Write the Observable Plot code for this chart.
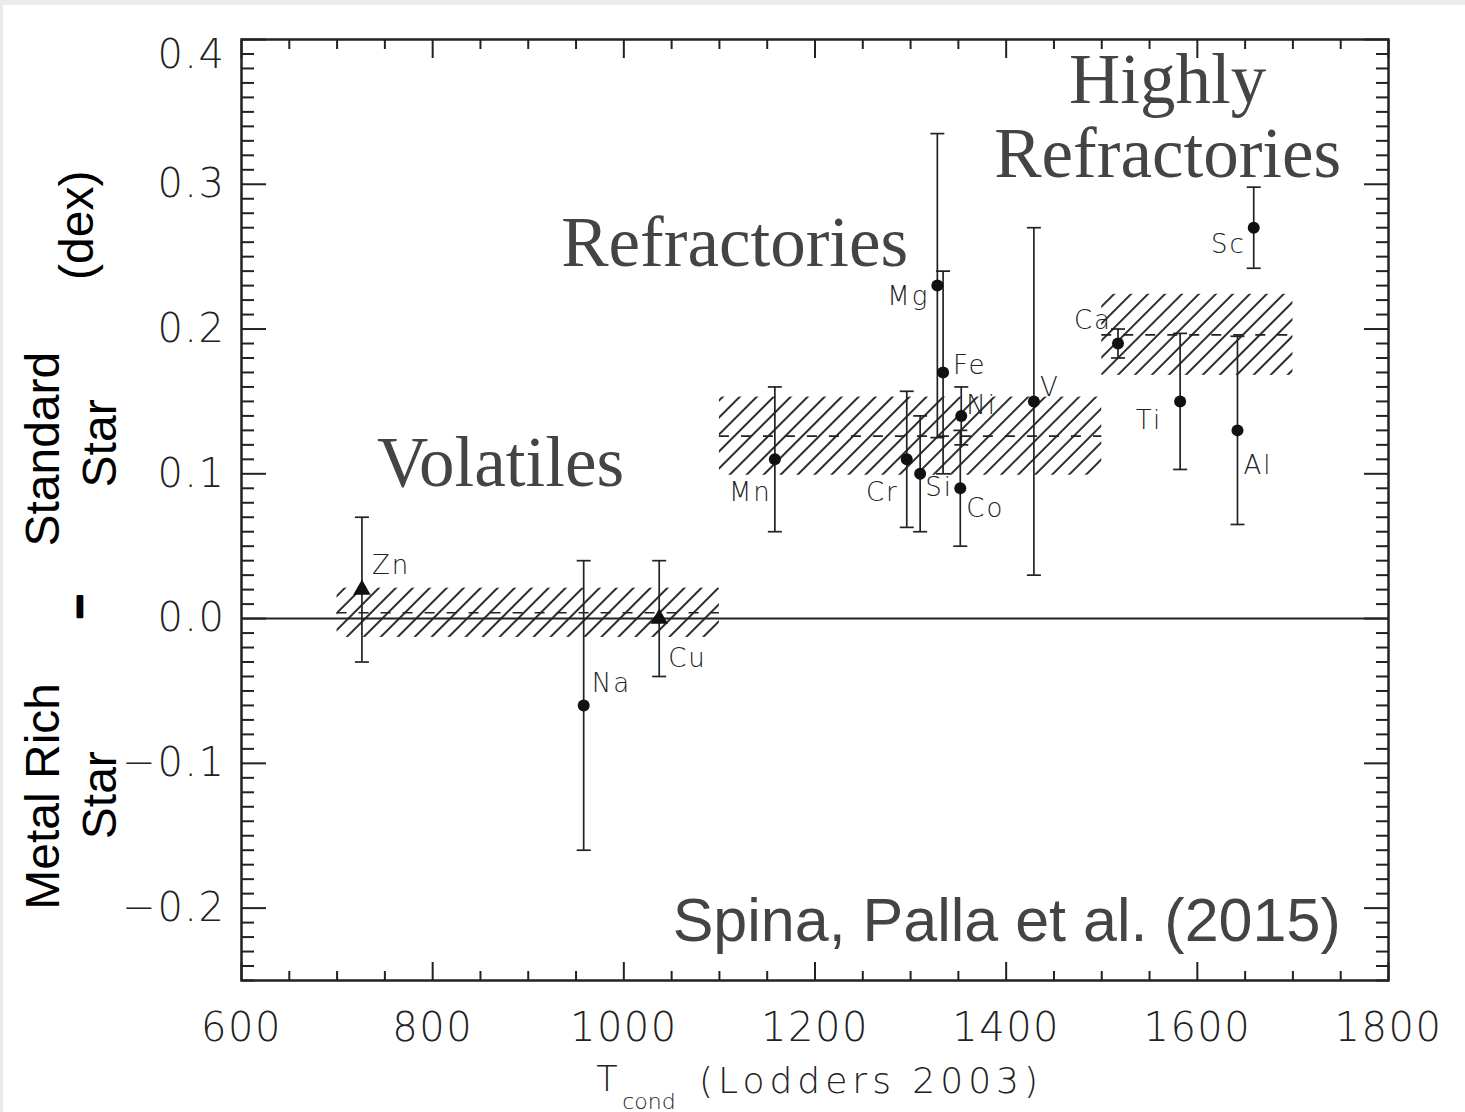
<!DOCTYPE html>
<html><head><meta charset="utf-8">
<script src="https://cdn.jsdelivr.net/npm/d3@7"></script>
<script src="https://cdn.jsdelivr.net/npm/@observablehq/plot@0.6"></script>
<style>
html,body{margin:0;padding:0;background:#ebebef;}
#chart{position:absolute;left:3px;top:5px;width:1462px;height:1107px;background:#fff;}
#chart svg{display:block;}
g[aria-label="x-axis tick label"] text, g[aria-label="y-axis tick label"] text {letter-spacing:1.5px;}
.elabel text{letter-spacing:2px;}
.xtitle text{letter-spacing:5px;}
</style></head><body><div id="chart"></div>
<script>
// ---- data ----
const elements  = ["Zn","Na","Cu","Mn","Cr","Si","Mg","Fe","Ni","Co","V","Ca","Ti","Al","Sc"];
const tcond     = [726, 958, 1037, 1158, 1296, 1310, 1328, 1334, 1353, 1352, 1429, 1517, 1582, 1642, 1659];
const abundance = [0.02, -0.06, 0.00, 0.11, 0.11, 0.10, 0.23, 0.17, 0.14, 0.09, 0.15, 0.19, 0.15, 0.13, 0.27];
const errors    = [0.05, 0.10, 0.04, 0.05, 0.047, 0.04, 0.105, 0.07, 0.02, 0.04, 0.12, 0.01, 0.047, 0.065, 0.028];
const markers   = ["triangle","circle","triangle","circle","circle","circle","circle","circle","circle","circle","circle","circle","circle","circle","circle"];

const groupNames  = ["Volatiles","Refractories","Highly Refractories"];
const groupTmin   = [700, 1100, 1500];
const groupTmax   = [1100, 1500, 1700];
const groupMean   = [0.004, 0.126, 0.196];
const groupSpread = [0.017, 0.027, 0.028];

const xMajorTicks = [600, 800, 1000, 1200, 1400, 1600, 1800];
const yMajorTicks = [-0.2, -0.1, 0, 0.1, 0.2, 0.3, 0.4];
const xMinorTicks = d3.range(600, 1801, 50).filter(v => v % 200 !== 0);
const yMinorTicks = d3.range(-25, 41).filter(i => i % 10 !== 0).map(i => i / 100);

// ---- label placement (style, not data) ----
const labelPlacement = {
  Zn:["start",10,-24], Na:["start",8,-22], Cu:["start",9,40], Mn:["end",-3,33],
  Cr:["end",-8,33], Si:["start",5,14], Mg:["end",-8,11], Fe:["start",10,-7],
  Ni:["start",5,-10], Co:["start",6,20], V:["start",6,-14], Ca:["end",-6,-23],
  Ti:["end",-18,19], Al:["start",6,35], Sc:["end",-8,17]
};
const annotations = [
  {text:"Volatiles", t:871, v:0.107},
  {text:"Refractories", t:1116, v:0.259},
  {text:"Highly", t:1569, v:0.372},
  {text:"Refractories", t:1569, v:0.321}
];
const sideLabels = [
  {text:"(dex)", v:0.2717, dx:-164},
  {text:"Standard", v:0.117, dx:-198},
  {text:"Star", v:0.121, dx:-141},
  {text:"Metal Rich", v:-0.1228, dx:-198},
  {text:"Star", v:-0.122, dx:-141}
];

const points = elements.map((el, i) => ({el, t: tcond[i], a: abundance[i], e: errors[i], m: markers[i]}));
const caps = points.flatMap(p => [{t: p.t, v: p.a - p.e}, {t: p.t, v: p.a + p.e}]);
const bands = groupNames.map((g, i) => ({g, x1: groupTmin[i], x2: groupTmax[i], mean: groupMean[i], s: groupSpread[i]}));

const capSymbol = {draw(ctx, size){ const r = Math.sqrt(size/Math.PI); ctx.moveTo(-r,0); ctx.lineTo(r,0); }};
const thin = "'DejaVu Sans', sans-serif";
const ink = "#222";

const labelMarks = points.map(p => {
  const [anchor, dx, dy] = labelPlacement[p.el];
  return Plot.text([p], {x:"t", y:"a", text:"el", textAnchor:anchor, dx, dy, fontSize:26, fontFamily:thin, fontWeight:200, fill:"#222", className:"elabel"});
});
const sideMarks = sideLabels.map(s =>
  Plot.text([s], {y:"v", text:"text", frameAnchor:"left", textAnchor:"middle", lineAnchor:"middle", dx:s.dx, rotate:-90, fontSize:48, fontFamily:"'Liberation Sans', Arial, sans-serif", fill:"#000"})
);

const svg = Plot.plot({
  width: 1462, height: 1107,
  marginLeft: 238, marginRight: 77, marginTop: 34, marginBottom: 132,
  style: {background:"white", overflow:"visible"},
  x: {domain:[600,1800]},
  y: {domain:[-0.25,0.4]},
  marks: [
    Plot.rect(bands, {x1:"x1", x2:"x2", y1: d => d.mean - d.s, y2: d => d.mean + d.s, fill:"url(#hatch)"}),
    Plot.ruleY(bands, {y:"mean", x1:"x1", x2:"x2", stroke:ink, strokeWidth:1.6, strokeDasharray:"10,12"}),
    Plot.ruleY([0], {stroke:ink, strokeWidth:2}),
    Plot.ruleX(points, {x:"t", y1: d => d.a - d.e, y2: d => d.a + d.e, stroke:ink, strokeWidth:1.7}),
    Plot.dot(caps, {x:"t", y:"v", symbol:capSymbol, r:7, stroke:ink, strokeWidth:1.7, fill:"none"}),
    Plot.dot(points.filter(p => p.m === "circle"), {x:"t", y:"a", r:6, fill:"#111"}),
    Plot.dot(points.filter(p => p.m === "triangle"), {x:"t", y:"a", symbol:"triangle", r:6.5, fill:"#111"}),
    ...labelMarks,
    Plot.text(annotations, {x:"t", y:"v", text:"text", fontSize:71, fontFamily:"'Liberation Serif', serif", fill:"#444"}),
    Plot.text(["Spina, Palla et al. (2015)"], {x:() => 1750, y:() => -0.209, text:d => d, textAnchor:"end", fontSize:61, fontFamily:"'Liberation Sans', sans-serif", fill:"#444"}),
    ...sideMarks,
    Plot.text(["–"], {y:() => 0.0083, text:d => d, frameAnchor:"left", textAnchor:"middle", lineAnchor:"middle", dx:-164, rotate:-90, fontSize:42, fontWeight:"bold", fontFamily:"'Liberation Sans', Arial, sans-serif", fill:"#000", stroke:"#000", strokeWidth:2.5}),
    // ticks (inward, all four sides)
    Plot.axisX({anchor:"bottom", ticks:xMajorTicks, tickSize:18, dy:-18, fill:"none", stroke:ink, strokeWidth:2, label:null}),
    Plot.axisX({anchor:"bottom", ticks:xMinorTicks, tickSize:9, dy:-9, fill:"none", stroke:ink, strokeWidth:2, label:null}),
    Plot.axisX({anchor:"top", ticks:xMajorTicks, tickSize:18, dy:18, fill:"none", stroke:ink, strokeWidth:2, label:null}),
    Plot.axisX({anchor:"top", ticks:xMinorTicks, tickSize:9, dy:9, fill:"none", stroke:ink, strokeWidth:2, label:null}),
    Plot.axisY({anchor:"left", ticks:yMajorTicks, tickSize:25, dx:25, fill:"none", stroke:ink, strokeWidth:2, label:null}),
    Plot.axisY({anchor:"left", ticks:yMinorTicks, tickSize:13, dx:13, fill:"none", stroke:ink, strokeWidth:2, label:null}),
    Plot.axisY({anchor:"right", ticks:yMajorTicks, tickSize:25, dx:-25, fill:"none", stroke:ink, strokeWidth:2, label:null}),
    Plot.axisY({anchor:"right", ticks:yMinorTicks, tickSize:13, dx:-13, fill:"none", stroke:ink, strokeWidth:2, label:null}),
    // tick labels
    Plot.axisX({anchor:"bottom", ticks:xMajorTicks, tickSize:0, tickPadding:32, tickFormat:d => String(d), fontSize:40, fontFamily:thin, fontWeight:200, fill:"#222", label:null}),
    Plot.axisY({anchor:"left", ticks:yMajorTicks.filter(v => v !== 0.4), tickSize:0, tickPadding:16, tickFormat:d3.format(".1f"), fontSize:40, fontFamily:thin, fontWeight:200, fill:"#222", label:null}),
    Plot.axisY({anchor:"left", ticks:[0.4], tickSize:0, tickPadding:16, dy:16, tickFormat:d3.format(".1f"), fontSize:40, fontFamily:thin, fontWeight:200, fill:"#222", label:null}),
    Plot.frame({stroke:ink, strokeWidth:2.5}),
    // x title
    Plot.text(["T"], {frameAnchor:"bottom", lineAnchor:"middle", text:d => d, dx:-208, dy:99, fontSize:35, fontFamily:thin, fontWeight:200, fill:"#222"}),
    Plot.text(["cond"], {frameAnchor:"bottom", lineAnchor:"middle", text:d => d, dx:-166, dy:121, fontSize:22, fontFamily:thin, fontWeight:200, fill:"#222"}),
    Plot.text(["(Lodders 2003)"], {frameAnchor:"bottom", lineAnchor:"middle", text:d => d, textAnchor:"start", dx:-116, dy:101, fontSize:36, fontFamily:thin, fontWeight:200, fill:"#222", className:"xtitle"})
  ]
});

const defs = d3.select(svg).insert("defs", ":first-child");
const pat = defs.append("pattern").attr("id","hatch").attr("patternUnits","userSpaceOnUse")
  .attr("width",12).attr("height",12).attr("patternTransform","rotate(45)");
pat.append("line").attr("x1",6).attr("y1",-1).attr("x2",6).attr("y2",13).attr("stroke","#222").attr("stroke-width",1.9);

document.getElementById("chart").appendChild(svg);
</script></body></html>
